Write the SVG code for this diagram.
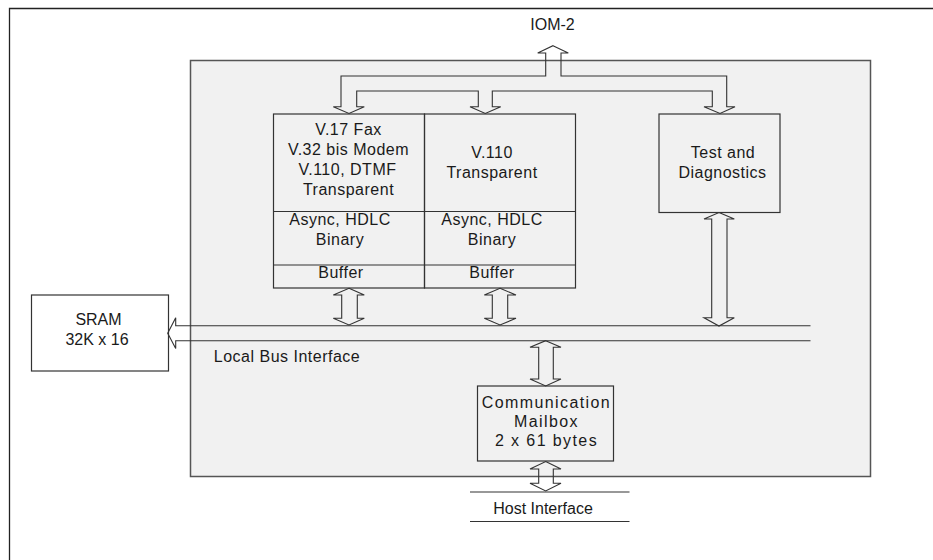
<svg xmlns="http://www.w3.org/2000/svg" width="933" height="560" viewBox="0 0 933 560">
<style>
text{font-family:"Liberation Sans",Arial,sans-serif;font-size:16px;fill:#1a1a1a;text-anchor:middle;letter-spacing:0.5px}
.box{fill:none;stroke:#333;stroke-width:1.2}
.arr{fill:none;stroke:#333;stroke-width:1.1;stroke-linejoin:miter}
.mb text{letter-spacing:1.4px}
</style>
<rect width="933" height="560" fill="#fff"/>
<g id="frame"><path d="M9.5,560 V8.5 H933" fill="none" stroke="#222" stroke-width="1.3"/></g>
<g id="chip"><rect x="190.5" y="60.5" width="680" height="416" fill="#f1f1f1" stroke="#555" stroke-width="1.5"/></g>
<g id="iom2"><text x="552.5" y="30" style="letter-spacing:0">IOM-2</text></g>
<g id="dsp-left">
<rect class="box" x="273.5" y="114" width="151" height="174"/>
<line class="box" x1="273.5" y1="211.5" x2="424.5" y2="211.5"/>
<line class="box" x1="273.5" y1="265" x2="424.5" y2="265"/>
<text x="348.5" y="135">V.17 Fax</text>
<text x="348.5" y="155">V.32 bis Modem</text>
<text x="347.5" y="175">V.110, DTMF</text>
<text x="348.5" y="195">Transparent</text>
<text x="340" y="225">Async, HDLC</text>
<text x="340" y="245">Binary</text>
<text x="341" y="278">Buffer</text>
</g>
<g id="dsp-right">
<rect class="box" x="424.5" y="114" width="151" height="174"/>
<line class="box" x1="424.5" y1="211.5" x2="575.5" y2="211.5"/>
<line class="box" x1="424.5" y1="265" x2="575.5" y2="265"/>
<text x="492" y="158">V.110</text>
<text x="492" y="178">Transparent</text>
<text x="492" y="225">Async, HDLC</text>
<text x="492" y="245">Binary</text>
<text x="492" y="278">Buffer</text>
</g>
<g id="test">
<rect class="box" x="659" y="114" width="121" height="98.5"/>
<text x="723" y="158">Test and</text>
<text x="722.5" y="178">Diagnostics</text>
</g>
<g id="mailbox" class="mb">
<rect class="box" x="477.5" y="386" width="136" height="75"/>
<text x="546.5" y="407.5">Communication</text>
<text x="546.5" y="426.5">Mailbox</text>
<text x="546.5" y="445.5">2 x 61 bytes</text>
</g>
<g id="sram">
<rect class="box" x="31.5" y="295" width="137" height="76"/>
<text x="98.5" y="325" style="letter-spacing:0">SRAM</text>
<text x="97" y="344.5" style="letter-spacing:0">32K x 16</text>
</g>
<g id="localbus-label"><text x="287" y="361.5">Local Bus Interface</text></g>
<g id="host">
<line x1="470" y1="492" x2="629.5" y2="492" stroke="#333" stroke-width="1.1"/>
<line x1="470" y1="521.5" x2="629.5" y2="521.5" stroke="#333" stroke-width="1.1"/>
<text x="543" y="513.5" style="letter-spacing:0">Host Interface</text>
</g>
<g id="connectors">
<path class="arr" d="M553,45.7 L568.3,53 H561 V76 H726.7 V106.7 H735 L720,113.5 L704,106.7 H712.3 V91 H492.3 V106.7 H500.7 L485.3,113.5 L470,106.7 H478.3 V91 H356.7 V106.7 H364.3 L349,113.5 L333.3,106.7 H341 V76 H545.7 V53 H537.7 Z"/>
<path class="arr" d="M349,288.3 L364.3,295 H357.3 V318.3 H364.3 L349,325 L333.3,318.3 H341.7 V295 H333.3 Z"/>
<path class="arr" d="M500,288.3 L516,295 H507.7 V318.3 H516 L500,325 L484.3,318.3 H492.3 V295 H484.3 Z"/>
<path class="arr" d="M719,212.5 L734.3,219 H727 V317.7 H734.3 L719,326 L704,317.7 H711.7 V219 H704 Z"/>
<path class="arr" d="M545.7,340.7 L561,347.3 H553.3 V379 H561 L545.7,386 L530,379 H538.7 V347.3 H530 Z"/>
<path class="arr" d="M545.7,461.5 L561,469 H553.3 V483.3 H561 L545.7,491 L530,483.3 H538.7 V469 H530 Z"/>
<path class="arr" d="M810.5,325.7 H175.7 V317.7 L167.7,333.3 L175.7,348.5 V340.7 H810.5"/>
</g>
</svg>
